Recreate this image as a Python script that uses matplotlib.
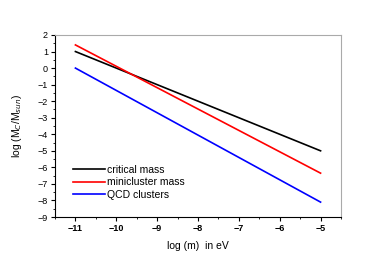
import matplotlib
matplotlib.use("Agg")
import matplotlib.pyplot as plt
from matplotlib.ticker import MultipleLocator

plt.rcParams['font.family'] = ['Liberation Sans', 'DejaVu Sans']

log_m = [-11, -5]
critical_mass = [1.0, -5.0]
minicluster_mass = [1.4, -6.35]
qcd_clusters = [0.0, -8.1]

fig = plt.figure(figsize=(3.74, 2.56), dpi=100)
ax = fig.add_axes([55 / 374, 1 - 217 / 256, (341 - 55) / 374, (217 - 35) / 256])

ax.plot(log_m, critical_mass, color='black', lw=1.2, label='critical mass')
ax.plot(log_m, minicluster_mass, color='red', lw=1.2, label='minicluster mass')
ax.plot(log_m, qcd_clusters, color='blue', lw=1.2, label='QCD clusters')

ax.set_xlim(-11.5, -4.5)
ax.set_ylim(-9, 2)
ax.xaxis.set_major_locator(MultipleLocator(1))
ax.xaxis.set_minor_locator(MultipleLocator(0.5))
ax.yaxis.set_major_locator(MultipleLocator(1))
ax.yaxis.set_minor_locator(MultipleLocator(0.5))
ax.set_xticks(range(-11, -4))
ax.tick_params(which='major', length=3, width=0.8, labelsize=6.5, pad=2)
ax.tick_params(which='minor', length=1.5, width=0.6)
for lbl in ax.get_xticklabels():
    lbl.set_fontweight('bold')

for side in ['top', 'right']:
    ax.spines[side].set_color('#aaaaaa')
    ax.spines[side].set_linewidth(0.8)
for side in ['left', 'bottom']:
    ax.spines[side].set_linewidth(0.8)

ax.set_xlabel('log (m)  in eV', fontsize=7.5, labelpad=6)
ax.set_ylabel('log (M$_C$/M$_{sun}$)', fontsize=7.5, labelpad=10)

ax.legend(loc='lower left', bbox_to_anchor=(0.05, 0.07), frameon=False, fontsize=7.5,
          handlelength=3, handletextpad=0.2, labelspacing=0.25, borderaxespad=0)

fig.savefig('out.png', dpi=100)
